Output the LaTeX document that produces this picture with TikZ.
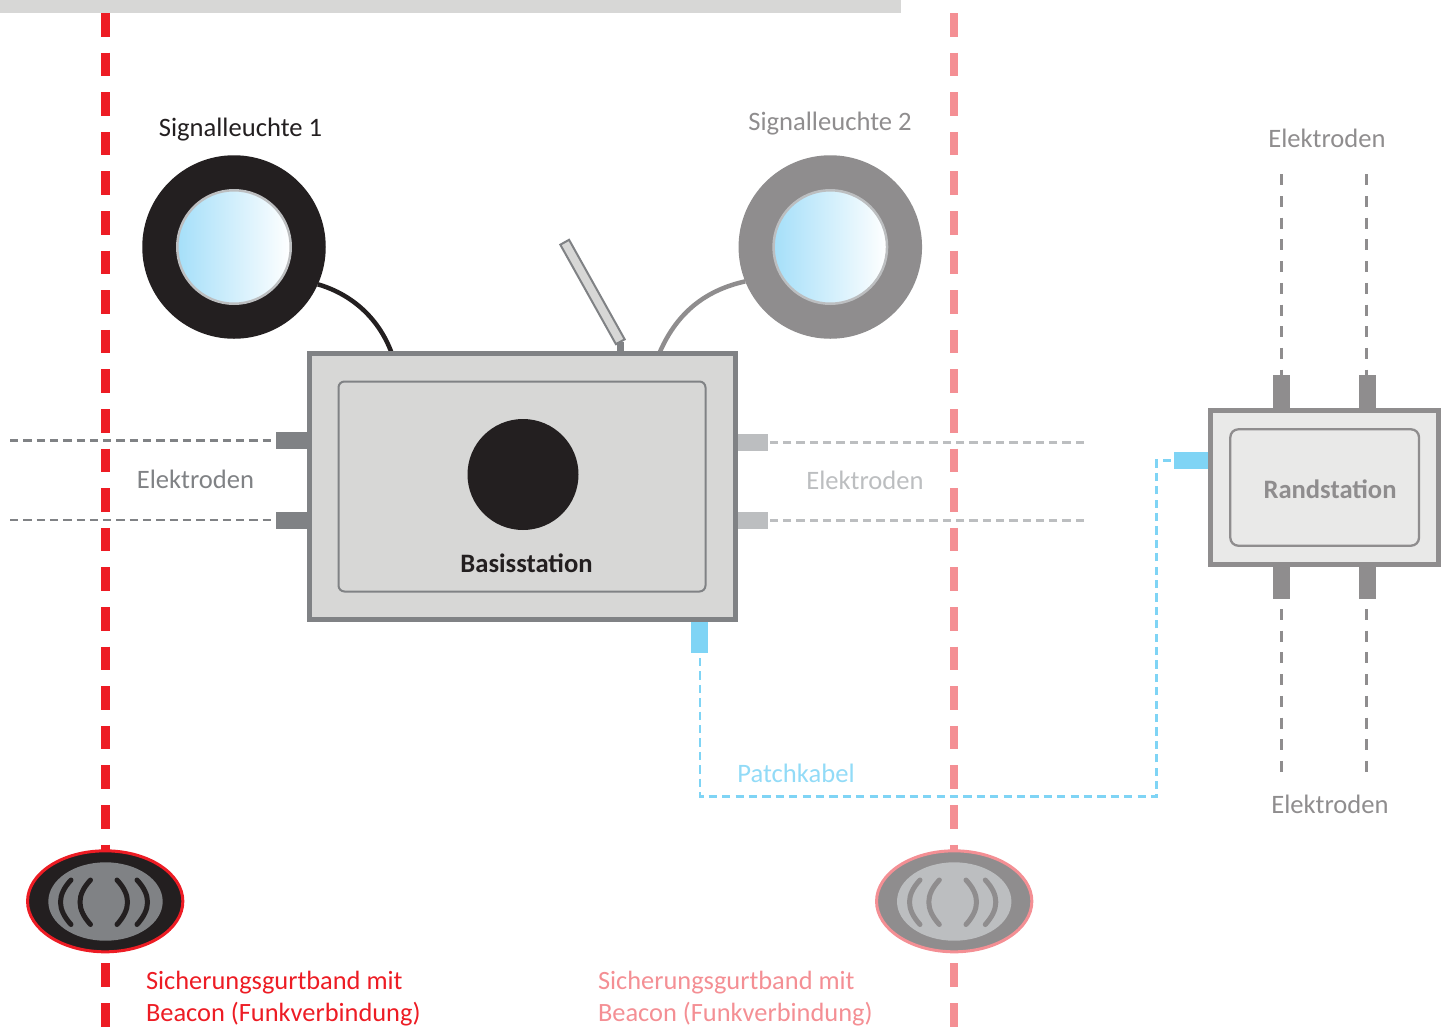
\documentclass[tikz,border=0pt]{standalone}
\usepackage{fontspec}
\setmainfont{Carlito}
\usetikzlibrary{positioning,calc,shapes.geometric}
\definecolor{inkblack}{HTML}{231F20}
\definecolor{midgray}{HTML}{808285}
\definecolor{warmgray}{HTML}{8F8D8E}
\definecolor{lightgray}{HTML}{BCBEC0}
\definecolor{panelgray}{HTML}{D7D7D6}
\definecolor{palegray}{HTML}{E9E9E8}
\definecolor{cablecyan}{HTML}{7FD4F5}
\definecolor{lensblue}{HTML}{A5DFF9}
\definecolor{beltred}{HTML}{ED1C24}
\definecolor{beltpink}{HTML}{F48F94}
\newcommand{\labelfont}{\fontsize{26.6}{32}\selectfont}
\newcommand{\beltfont}{\fontsize{26.4}{32}\selectfont}

\begin{document}
\begin{tikzpicture}[x=1pt,y=-1pt]
\tikzset{every node/.style={inner sep=0pt,outer sep=0pt}}
\tikzset{lbl/.style={font=\labelfont,align=left}}
\tikzset{belt/.style={line width=8.3pt,dash pattern=on 23.6pt off 16pt}}
\tikzset{elec/.style={line width=2.5pt,dash pattern=on 8.3pt off 5pt}}
\tikzset{elecv/.style={line width=2.5pt,dash pattern=on 11pt off 10.7pt,warmgray}}
\tikzset{patch/.style={line width=2.7pt,dash pattern=on 8.3pt off 5.1pt,cablecyan}}
\tikzset{port/.style={draw=none,rectangle}}
\tikzset{ring/.style={circle,minimum size=183.5pt}}
\tikzset{lens/.style={circle,draw=lightgray,line width=2.5pt,minimum size=113.5pt,left color=lensblue,right color=white}}
\tikzset{beacon/.style={ellipse,line width=3pt,minimum width=155.3pt,minimum height=101pt,fill=#1}}
\tikzset{pad/.style={ellipse,minimum width=114.4pt,minimum height=78.4pt}}
\tikzset{wave/.style={line width=5pt,line cap=round,draw=#1}}
\useasboundingbox (0,0) rectangle (1450,1026);

\node[fill=panelgray,anchor=north west,minimum width=901pt,minimum height=13pt] (band) at (0,0) {};

\coordinate (beltAtop) at (105.5,13);
\coordinate (beltAend) at (105.5,1030);
\coordinate (beltBtop) at (954.2,13);
\coordinate (beltBend) at (954.2,1030);
\draw[belt,beltred] (beltAtop) -- (beltAend);
\draw[belt,beltpink] (beltBtop) -- (beltBend);

% signal lights
\node[ring,fill=inkblack] (sigA) at (234,247) {};
\node[lens] (lensA) at (234,247) {};
\node[ring,fill=warmgray] (sigB) at (830.3,247) {};
\node[lens] (lensB) at (830.3,247) {};
\node[lbl,text=inkblack] (sigAtext) at (240.5,130) {Signalleuchte 1};
\node[lbl,text=warmgray] (sigBtext) at (830,124) {Signalleuchte 2};

% base station
\coordinate (wireA) at (392,354);
\coordinate (wireB) at (659,354);
\draw[line width=4.5pt,inkblack] (sigA.-24) .. controls (348,293) and (378,315) .. (wireA);
\draw[line width=4.5pt,warmgray] (sigB.202) .. controls (702,291) and (675,316) .. (wireB);
\node[rectangle,draw=midgray,fill=panelgray,line width=5pt,minimum width=425.8pt,minimum height=266pt] (base) at (522.1,486.5) {};
\node[rectangle,rounded corners=6pt,draw=midgray,line width=2pt,minimum width=367pt,minimum height=210pt] (baseinner) at (522,486.5) {};
\node[circle,fill=inkblack,minimum size=111pt] (knob) at (523,474.5) {};
\node[lbl,text=inkblack,font=\labelfont\bfseries] (basetext) at (526.5,563.7) {Basisstation};
\node[rectangle,draw=midgray,fill=panelgray,line width=2pt,minimum width=114pt,minimum height=10pt,rotate=-60.8] (antenna) at (592.5,292) {};
\draw[line width=7pt,midgray] (antenna.east) -- (antenna.east |- base.north);

% electrodes left and right of the base
\node[port,fill=midgray,minimum width=31pt,minimum height=16.5pt] (portLa) at (291.5,440.5) {};
\node[port,fill=midgray,minimum width=31pt,minimum height=16.5pt] (portLb) at (291.5,520.3) {};
\node[port,fill=lightgray,minimum width=30.5pt,minimum height=16.5pt] (portRa) at (752.8,442.3) {};
\node[port,fill=lightgray,minimum width=30.5pt,minimum height=16.5pt] (portRb) at (752.8,520.3) {};
\coordinate (endLa) at (10,440.7);
\coordinate (endLb) at (10,520);
\coordinate (endRa) at (1084,442.5);
\coordinate (endRb) at (1084,520.3);
\draw[elec,midgray] (endLa) -- (endLa -| portLa.west);
\draw[elec,midgray] (endLb) -- (endLb -| portLb.west);
\draw[elec,lightgray] (endRa) -- (endRa -| portRa.east);
\draw[elec,lightgray] (endRb) -- (endRb -| portRb.east);
\node[lbl,text=midgray] (elecL) at (195.5,479.5) {Elektroden};
\node[lbl,text=lightgray] (elecR) at (865,480.5) {Elektroden};

% edge station
\node[rectangle,draw=warmgray,fill=palegray,line width=5pt,minimum width=227.7pt,minimum height=154.3pt] (rand) at (1324.65,487.35) {};
\node[rectangle,rounded corners=8pt,draw=warmgray,line width=2.3pt,minimum width=188.7pt,minimum height=116.4pt] (randinner) at (1324.65,487.5) {};
\node[lbl,text=warmgray,font=\labelfont\bfseries] (randtext) at (1330,489.5) {Randstation};
\node[port,fill=warmgray,minimum width=17pt,minimum height=33pt] (portTa) at (1281.5,391.5) {};
\node[port,fill=warmgray,minimum width=17pt,minimum height=33pt] (portTb) at (1367.5,391.5) {};
\node[port,fill=warmgray,minimum width=17pt,minimum height=32pt] (portBa) at (1281.5,583) {};
\node[port,fill=warmgray,minimum width=17pt,minimum height=32pt] (portBb) at (1367.5,583) {};
\coordinate (endTa) at (1281.7,174.3);
\coordinate (endTb) at (1366.5,174.3);
\coordinate (startBa) at (1281.7,609);
\coordinate (startBb) at (1366.5,609);
\coordinate (endBa) at (1281.7,772);
\coordinate (endBb) at (1366.5,772);
\draw[elecv] (endTa) -- (endTa |- portTa.north);
\draw[elecv] (endTb) -- (endTb |- portTb.north);
\draw[elecv] (startBa) -- (endBa);
\draw[elecv] (startBb) -- (endBb);
\node[lbl,text=warmgray] (elecT) at (1327,138) {Elektroden};
\node[lbl,text=warmgray] (elecB) at (1330,804) {Elektroden};

% patch cable
\node[port,fill=cablecyan,minimum width=17pt,minimum height=31pt] (patchA) at (699.5,637.5) {};
\node[port,fill=cablecyan,minimum width=34pt,minimum height=16.5pt] (patchB) at (1191.2,460.5) {};
\coordinate (patchstart) at (700,658);
\coordinate (patchlow) at (700,796.7);
\coordinate (patchhigh) at (1156.8,460.5);
\draw[patch] (patchstart) -- (patchlow) -- (patchlow -| patchhigh) -- (patchhigh) -- (patchB.west);
\node[lbl,text=cablecyan!85] (patchtext) at (796,773.5) {Patchkabel};

% beacons
\node[beacon=inkblack,draw=beltred] (beaconA) at (105.2,901.3) {};
\node[pad,fill=midgray] (padA) at (105.5,901.5) {};
\draw[wave=inkblack] (71,880) .. controls (57,895) and (57,909) .. (71,924.5);
\draw[wave=inkblack] (90.5,880) .. controls (76.5,895) and (76.5,909) .. (90.5,924.5);
\draw[wave=inkblack] (117,880) .. controls (131,895) and (131,909) .. (117,924.5);
\draw[wave=inkblack] (137,880) .. controls (151,895) and (151,909) .. (137,924.5);
\node[beacon=warmgray,draw=beltpink] (beaconB) at (954.2,901.3) {};
\node[pad,fill=lightgray] (padB) at (954.2,901.5) {};
\draw[wave=warmgray] (920,880) .. controls (906,895) and (906,909) .. (920,924.5);
\draw[wave=warmgray] (939.3,880) .. controls (925.3,895) and (925.3,909) .. (939.3,924.5);
\draw[wave=warmgray] (966,880) .. controls (980,895) and (980,909) .. (966,924.5);
\draw[wave=warmgray] (985.3,880) .. controls (999.3,895) and (999.3,909) .. (985.3,924.5);
\node[lbl,font=\beltfont,text=beltred,anchor=north west] (beaconAtext) at (146,971.5) {Sicherungsgurtband mit\\Beacon (Funkverbindung)};
\node[lbl,font=\beltfont,text=beltpink,anchor=north west] (beaconBtext) at (598,971.5) {Sicherungsgurtband mit\\Beacon (Funkverbindung)};
\end{tikzpicture}
\end{document}
